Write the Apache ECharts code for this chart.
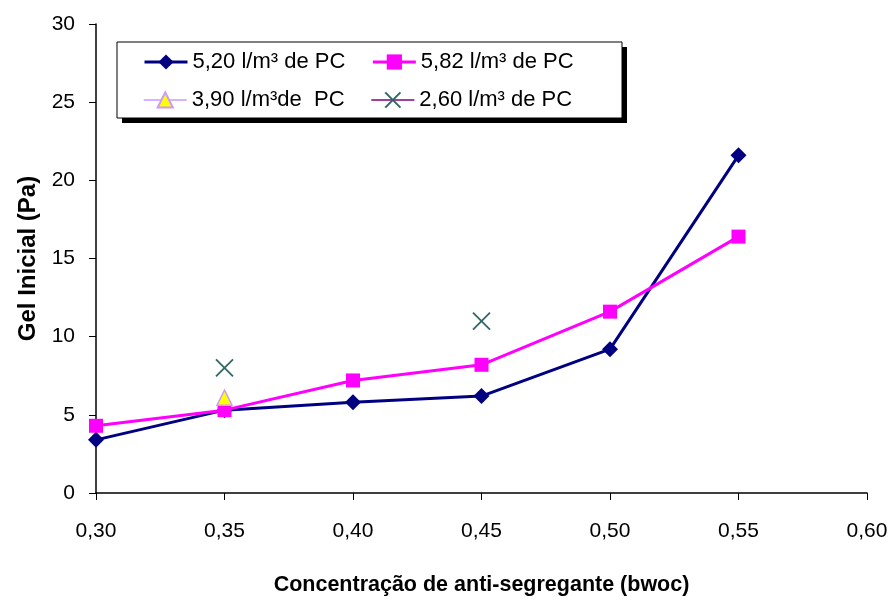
<!DOCTYPE html>
<html><head><meta charset="utf-8">
<script src="https://cdn.jsdelivr.net/npm/echarts@6/dist/echarts.min.js"></script>
<style>html,body{margin:0;padding:0;background:#fff}#c{width:891px;height:601px}</style>
</head><body><div id="c"></div>
<script>
var xValues = [0.30, 0.35, 0.40, 0.45, 0.50, 0.55];
var s520 = [3.4, 5.3, 5.8, 6.2, 9.2, 21.6];
var s582 = [4.3, 5.3, 7.2, 8.2, 11.6, 16.4];
var s390x = [0.35];
var s390 = [6.1];
var s260x = [0.35, 0.45];
var s260 = [8.0, 11.0];
var names = ['5,20 l/m³ de PC', '5,82 l/m³ de PC', '3,90 l/m³de  PC', '2,60 l/m³ de PC'];

function pairs(xs, ys){ return xs.map(function(x,i){return [x, ys[i]];}); }
var FONT = '"Liberation Sans", Arial, sans-serif';
var legendCommon = {
  orient: 'horizontal', left: 143, padding: 0,
  itemGap: 26, itemWidth: 43, itemHeight: 19,
  textStyle: {fontFamily: FONT, fontSize: 22, color: '#000', width: 180},
  selectedMode: false
};
var chart = echarts.init(document.getElementById('c'));
chart.setOption({
  animation: false,
  backgroundColor: '#fff',
  grid: {left: 96, right: 24, top: 24, bottom: 106},
  graphic: [
    {type: 'rect', shape: {x: 122, y: 47, width: 505, height: 76}, style: {fill: '#000'}, z: 10},
    {type: 'rect', shape: {x: 117, y: 42, width: 505, height: 76}, style: {fill: '#fff', stroke: '#000', lineWidth: 1}, z: 11}
  ],
  legend: [
    Object.assign({}, legendCommon, {top: 51, z: 20, data: [
      {name: names[0], lineStyle: {width: 3}},
      {name: names[1], lineStyle: {width: 3}}
    ]}),
    Object.assign({}, legendCommon, {top: 89, z: 20, data: [
      {name: names[2], lineStyle: {width: 1.5}},
      {name: names[3], lineStyle: {width: 1.5, color: '#800080', opacity: 1}}
    ]})
  ],
  xAxis: {
    type: 'value', min: 0.30, max: 0.60, interval: 0.05,
    name: 'Concentração de anti-segregante (bwoc)', nameLocation: 'middle', nameGap: 81,
    nameTextStyle: {fontFamily: FONT, fontSize: 21.5, fontWeight: 'bold', color: '#000'},
    axisLine: {lineStyle: {color: '#000', width: 1.5}},
    axisTick: {show: true, inside: false, length: 7, lineStyle: {color: '#000'}},
    axisLabel: {margin: 28, fontFamily: FONT, fontSize: 21, color: '#000',
      formatter: function(v){ return v.toFixed(2).replace('.', ','); }},
    splitLine: {show: false}
  },
  yAxis: {
    type: 'value', min: 0, max: 30, interval: 5,
    name: 'Gel Inicial (Pa)', nameLocation: 'middle', nameGap: 50, nameRotate: 90,
    nameTextStyle: {fontFamily: FONT, fontSize: 24, fontWeight: 'bold', color: '#000'},
    axisLine: {show: true, lineStyle: {color: '#000', width: 1.5}},
    axisTick: {show: true, inside: false, length: 7, lineStyle: {color: '#000'}},
    axisLabel: {margin: 21, fontFamily: FONT, fontSize: 21, color: '#000'},
    splitLine: {show: false}
  },
  series: [
    {name: names[0], type: 'line', data: pairs(xValues, s520), symbol: 'diamond', symbolSize: 16,
      lineStyle: {color: '#000080', width: 3}, itemStyle: {color: '#000080'}, z: 3},
    {name: names[1], type: 'line', data: pairs(xValues, s582), symbol: 'rect', symbolSize: 14,
      lineStyle: {color: '#FF00FF', width: 3}, itemStyle: {color: '#FF00FF'}, z: 4},
    {name: names[2], type: 'line', data: pairs(s390x, s390), symbol: 'triangle', symbolSize: 15,
      lineStyle: {color: '#CC99FF', width: 1.5}, itemStyle: {color: '#FFFF00', borderColor: '#CC99FF', borderWidth: 1.5}, z: 5},
    {name: names[3], type: 'line', data: pairs(s260x, s260), symbol: 'path://M0,0L10,10M10,0L0,10', symbolSize: 17,
      lineStyle: {color: '#800080', width: 1.5, opacity: 0},
      itemStyle: {color: 'none', borderColor: '#336666', borderWidth: 1.8}, z: 5}
  ]
});
</script></body></html>
